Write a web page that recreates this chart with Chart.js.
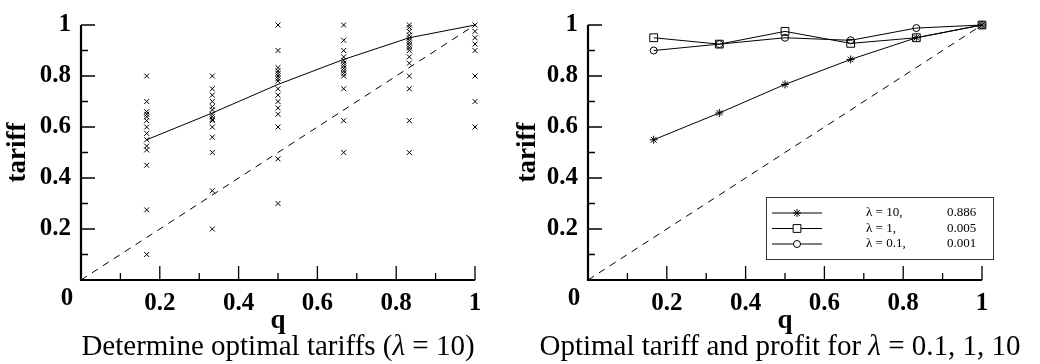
<!DOCTYPE html>
<html>
<head>
<meta charset="utf-8">
<script src="https://cdn.jsdelivr.net/npm/chart.js@4.4.0/dist/chart.umd.min.js"></script>
<style>
  html, body { margin:0; padding:0; background:#fff; }
  #wrap { position:relative; width:1040px; height:364px; overflow:hidden; }
  .cv { position:absolute; top:0; }
  .caption { position:absolute; top:329px; font-family:"Liberation Serif", serif; font-size:29px; color:#000; white-space:nowrap; text-align:center; }
</style>
</head>
<body>
<div id="wrap">
  <canvas id="left" class="cv" style="left:0px" width="510" height="364"></canvas>
  <canvas id="right" class="cv" style="left:510px" width="530" height="364"></canvas>
  <div class="caption" style="left:28px; width:500px">Determine optimal tariffs (<i>λ</i> = 10)</div>
  <div class="caption" style="left:530px; width:500px">Optimal tariff and profit for <i>λ</i> = 0.1, 1, 10</div>
</div>
<script>
// q values (columns)
const qValues = [0.1667, 0.3333, 0.5, 0.6667, 0.8333, 1];

// sampled tariffs per column (left plot crosses)
const sampledTariffs = [
  [0.8, 0.7, 0.66, 0.65, 0.64, 0.625, 0.6, 0.575, 0.55, 0.525, 0.51, 0.45, 0.275, 0.1],
  [0.8, 0.75, 0.725, 0.7, 0.68, 0.667, 0.65, 0.64, 0.63, 0.625, 0.6, 0.56, 0.5, 0.35, 0.2],
  [1.0, 0.9, 0.833, 0.82, 0.81, 0.8, 0.79, 0.78, 0.75, 0.725, 0.7, 0.675, 0.65, 0.6, 0.475, 0.3],
  [1.0, 0.94, 0.9, 0.875, 0.86, 0.85, 0.84, 0.83, 0.82, 0.81, 0.8, 0.75, 0.625, 0.5],
  [1.0, 0.99, 0.975, 0.96, 0.95, 0.94, 0.93, 0.92, 0.91, 0.9, 0.875, 0.85, 0.8, 0.75, 0.625, 0.5],
  [1.0, 0.975, 0.95, 0.925, 0.9, 0.8, 0.7, 0.6]
];

// optimal tariffs
const tariffL10 = [0.55, 0.655, 0.767, 0.865, 0.95, 1.0];
const tariffL1 = [0.95, 0.925, 0.975, 0.928, 0.95, 1.0];
const tariffL01 = [0.9, 0.925, 0.95, 0.94, 0.988, 1.0];

// diagonal reference
const diagX = [0, 1];
const diagY = [0, 1];

// legend
const legendLabels = ['λ = 10,', 'λ = 1,', 'λ = 0.1,'];
const legendProfits = ['0.886', '0.005', '0.001'];

const serif = '"Liberation Serif", serif';

function pts(xs, ys){ return xs.map((x,i)=>({x, y:ys[i]})); }

const crossPts = [];
sampledTariffs.forEach((col, i)=> col.forEach(v=> crossPts.push({x:qValues[i], y:v})));

function tickLabel(v){
  const t = Math.round(v*10);
  if (t <= 0 || t % 2) return '';
  return t === 10 ? '1' : (t/10).toString();
}

// inward ticks, axis lines and the corner "0"
const axesPlugin = {
  id: 'axesPlugin',
  afterDraw(chart){
    const {ctx, chartArea:a, scales:{x, y}} = chart;
    ctx.save();
    ctx.strokeStyle = '#000';
    ctx.lineWidth = 1.3;
    for (let i = 1; i <= 10; i++){
      const v = i/10, len = i%2 ? 7 : 14;
      const px = x.getPixelForValue(v), py = y.getPixelForValue(v);
      ctx.beginPath();
      ctx.moveTo(px, a.bottom); ctx.lineTo(px, a.bottom - len);
      ctx.moveTo(a.left, py); ctx.lineTo(a.left + len, py);
      ctx.stroke();
    }
    ctx.lineWidth = 2.2;
    ctx.beginPath();
    ctx.moveTo(a.left, a.top); ctx.lineTo(a.left, a.bottom); ctx.lineTo(a.right, a.bottom);
    ctx.stroke();
    ctx.fillStyle = '#000';
    ctx.font = 'bold 25px ' + serif;
    ctx.textAlign = 'center'; ctx.textBaseline = 'middle';
    ctx.fillText('0', a.left - 14, a.bottom + 19);
    ctx.restore();
  }
};

// boxed legend for the right plot
const boxLegend = {
  id: 'boxLegend',
  afterDraw(chart){
    const {ctx, chartArea:a} = chart;
    const w = 227, h = 62;
    const bx = a.right + 11 - w, by = a.bottom - 21 - h;
    ctx.save();
    ctx.fillStyle = '#fff';
    ctx.fillRect(bx, by, w, h);
    ctx.strokeStyle = '#333'; ctx.lineWidth = 1;
    ctx.strokeRect(bx + 0.5, by + 0.5, w, h);
    ctx.font = '13px ' + serif;
    ctx.textBaseline = 'middle';
    [0,1,2].forEach(i=>{
      const ds = chart.data.datasets[i];
      const ry = by + 16 + i*15.5;
      ctx.strokeStyle = '#000'; ctx.lineWidth = 1;
      ctx.beginPath(); ctx.moveTo(bx + 6, ry); ctx.lineTo(bx + 56, ry); ctx.stroke();
      ctx.fillStyle = '#fff';
      Chart.helpers.drawPoint(ctx, {pointStyle: ds.pointStyle, radius: ds.pointRadius, borderWidth: 1}, bx + 31, ry);
      ctx.fillStyle = '#000';
      ctx.textAlign = 'left';
      ctx.fillText(legendLabels[i], bx + 100, ry);
      ctx.fillText(legendProfits[i], bx + 181, ry);
    });
    ctx.restore();
  }
};

function baseOptions(yWidth, padRight){
  return {
    responsive: false,
    animation: false,
    clip: false,
    layout: { padding: { left: 0, right: padRight, top: 16, bottom: 0 } },
    plugins: { legend: { display: false }, tooltip: { enabled: false } },
    scales: {
      x: {
        type: 'linear', min: 0, max: 1,
        afterFit: s => { s.height = 84; },
        grid: { display: false, drawTicks: false },
        border: { display: false },
        ticks: { stepSize: 0.1, autoSkip: false, maxRotation: 0, padding: 9,
                 color: '#000', font: { family: serif, size: 25, weight: 'bold' }, callback: tickLabel },
        title: { display: true, text: 'q', color: '#000', padding: { top: 0, bottom: 27 },
                 font: { family: serif, size: 27, weight: 'bold' } }
      },
      y: {
        type: 'linear', min: 0, max: 1,
        afterFit: s => { s.width = yWidth; },
        grid: { display: false, drawTicks: false },
        border: { display: false },
        ticks: { stepSize: 0.1, autoSkip: false, padding: 10,
                 color: '#000', font: { family: serif, size: 25, weight: 'bold' }, callback: tickLabel },
        title: { display: true, text: 'tariff', color: '#000', padding: { top: 2, bottom: 0 },
                 font: { family: serif, size: 27, weight: 'bold' } }
      }
    }
  };
}

const diagDataset = {
  type: 'line', data: pts(diagX, diagY), borderColor: '#000', borderWidth: 1,
  borderDash: [7, 6], pointRadius: 0, fill: false, clip: false
};

new Chart(document.getElementById('left'), {
  type: 'scatter',
  data: {
    datasets: [
      { data: crossPts, pointStyle: 'crossRot', pointRadius: 3.5, borderColor: '#000',
        borderWidth: 1, showLine: false, clip: false },
      { type: 'line', data: pts(qValues, tariffL10), borderColor: '#000', borderWidth: 1,
        pointRadius: 0, fill: false, clip: false },
      diagDataset
    ]
  },
  options: baseOptions(81, 35),
  plugins: [axesPlugin]
});

new Chart(document.getElementById('right'), {
  type: 'scatter',
  data: {
    datasets: [
      { type: 'line', data: pts(qValues, tariffL10), pointStyle: 'star', pointRadius: 4,
        borderColor: '#000', pointBorderColor: '#000', borderWidth: 1, backgroundColor: 'transparent', fill: false, clip: false },
      { type: 'line', data: pts(qValues, tariffL1), pointStyle: 'rect', pointRadius: 5.5,
        borderColor: '#000', pointBorderColor: '#000', borderWidth: 1, backgroundColor: 'transparent', fill: false, clip: false },
      { type: 'line', data: pts(qValues, tariffL01), pointStyle: 'circle', pointRadius: 3.5,
        borderColor: '#000', pointBorderColor: '#000', borderWidth: 1, backgroundColor: 'transparent', fill: false, clip: false },
      { ...diagDataset, data: pts(diagX, diagY) }
    ]
  },
  options: baseOptions(78, 58),
  plugins: [axesPlugin, boxLegend]
});
</script>
</body>
</html>
